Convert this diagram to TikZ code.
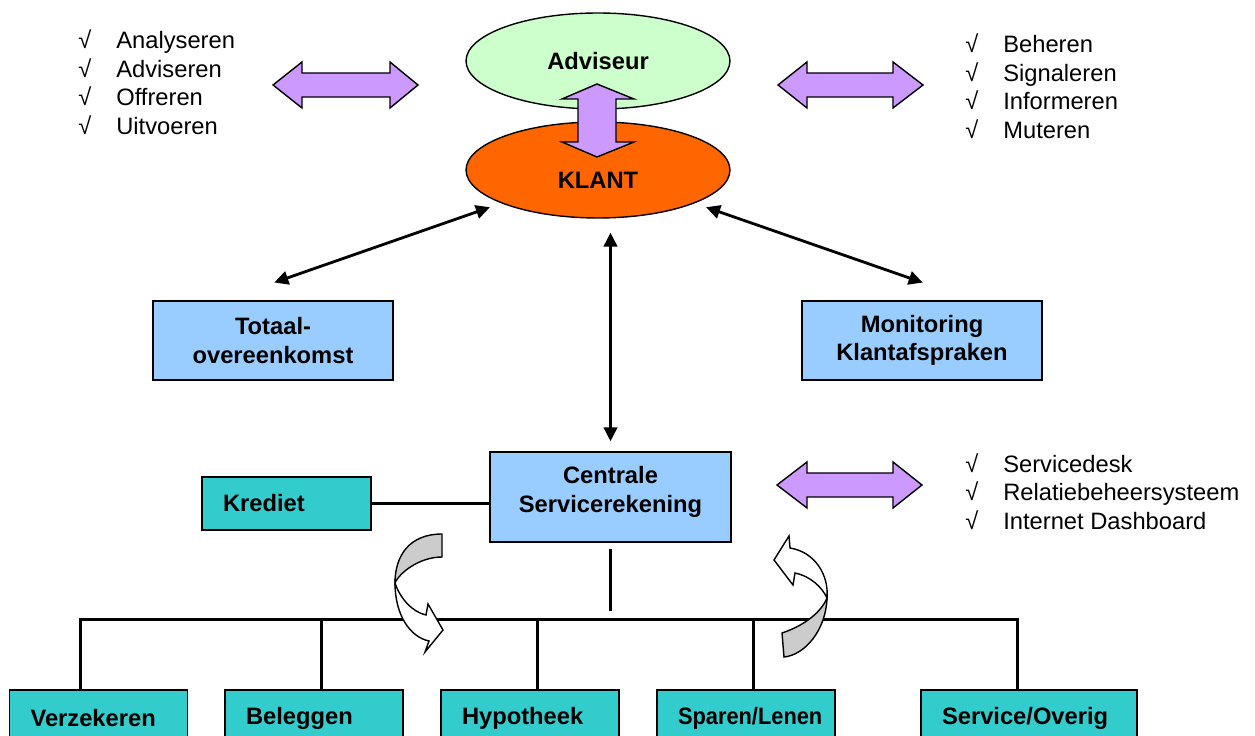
\documentclass[tikz,border=0pt]{standalone}
\usepackage{fontspec}
\setmainfont{Liberation Sans}
\usetikzlibrary{shapes.geometric,arrows.meta}

\definecolor{lichtgroen}{HTML}{CCFFCC}
\definecolor{oranje}{HTML}{FF6600}
\definecolor{lichtblauw}{HTML}{99CCFF}
\definecolor{turkoois}{HTML}{33CCCC}
\definecolor{paars}{HTML}{CC99FF}
\definecolor{grijs}{HTML}{CCCCCC}

\newcommand{\vink}{\makebox[0.76cm][l]{√}}

\tikzset{
  ovaal/.style={ellipse, draw, line width=0.8pt, minimum width=5.28cm, minimum height=1.92cm, font=\bfseries},
  blok/.style={draw, line width=0.8pt, fill=lichtblauw, font=\bfseries, align=center},
  product/.style={draw, line width=0.8pt, fill=turkoois, font=\bfseries, align=left, inner xsep=0.42cm, minimum height=1.12cm},
  pijl/.style={draw, line width=0.8pt, fill=paars, line join=miter},
  lijst/.style={anchor=north west, inner sep=0pt}
}

\begin{document}
\fontsize{13.5}{16.2}\selectfont
\begin{tikzpicture}[x=0.02cm, y=-0.02cm, >={Triangle[length=0.28cm,width=0.27cm]}]
\useasboundingbox (0,0) rectangle (1255,736);

% adviseur en klant
\node[ovaal, fill=lichtgroen] (adviseur) at (598,61) {Adviseur};
\node[ovaal, fill=oranje] (klant) at (598,170) {\raisebox{-0.2cm}[\height][\depth]{KLANT}};
\draw[pijl] (597,84) -- (634,99) -- (616,99) -- (616,142) -- (634,142) -- (597,157)
  -- (562,142) -- (578,142) -- (578,99) -- (562,99) -- cycle;

% lijstjes met blokpijlen
\node[lijst] (taken) at (78,28.5) {\begin{tabular}{@{}l@{}}
  \vink Analyseren\\ \vink Adviseren\\ \vink Offreren\\ \vink Uitvoeren
\end{tabular}};
\draw[pijl] (273,85) -- (302,62) -- (302,73) -- (390,73) -- (390,62) -- (418,85)
  -- (390,108) -- (390,97) -- (302,97) -- (302,108) -- cycle;

\node[lijst] (beheer) at (965,32.5) {\begin{tabular}{@{}l@{}}
  \vink Beheren\\ \vink Signaleren\\ \vink Informeren\\ \vink Muteren
\end{tabular}};
\draw[pijl] (778,85) -- (807,62) -- (807,73) -- (893,73) -- (893,62) -- (923,85)
  -- (893,108) -- (893,97) -- (807,97) -- (807,108) -- cycle;

\node[lijst] (middelen) at (965,452) {\begin{tabular}{@{}l@{}}
  \vink Servicedesk\\ \vink Relatiebeheersysteem\\ \vink Internet Dashboard
\end{tabular}};
\draw[pijl] (777,485) -- (807,462) -- (807,473) -- (893,473) -- (893,462) -- (922,485)
  -- (893,508) -- (893,497) -- (807,497) -- (807,508) -- cycle;

% blokken
\node[blok, minimum width=4.8cm, minimum height=1.58cm] (totaal) at (273,340.5) {Totaal-\\overeenkomst};
\node[blok, minimum width=4.8cm, minimum height=1.58cm] (monitoring) at (922,340.5) {Monitoring\\Klantafspraken};
\node[blok, minimum width=4.82cm, minimum height=1.8cm, text depth=0.3cm] (centrale) at (610.5,497) {Centrale\\Servicerekening};
\node[product, text width=2.54cm, minimum height=1.06cm] (krediet) at (286.5,503.5) {Krediet};

\draw[<->, line width=1.6pt, shorten <=0.24cm, shorten >=1.08cm] (klant.199) -- ([xshift=1.42cm]totaal.north west);
\draw[<->, line width=1.6pt, shorten <=0.24cm, shorten >=1.08cm] (klant.341) -- ([xshift=-1.38cm]monitoring.north east);
\draw[<->, line width=1.6pt, shorten <=0.28cm, shorten >=0.2cm] (centrale.north |- klant.south) -- (centrale.north);
\draw[line width=1.5pt] (krediet.east) -- (krediet.east -| centrale.west);

% producten
\node[product, text width=2.72cm] (verzekeren) at (98.5,718) {Verzekeren};
\node[product, text width=2.72cm] (beleggen) at (314,718) {Beleggen};
\node[product, text width=2.72cm] (hypotheek) at (530,718) {Hypotheek};
\node[product, text width=2.72cm] (sparen) at (746,718) {\scalebox{0.92}[1]{Sparen/Lenen}};
\node[product, text width=3.48cm] (service) at (1029,718) {Service/Overig};

\draw[line width=1.5pt] ([xshift=1.44cm]verzekeren.north west) -- ++(0,-70) coordinate (b1);
\draw[line width=1.5pt] ([xshift=1.94cm]beleggen.north west) -- ++(0,-70);
\draw[line width=1.5pt] ([xshift=1.94cm]hypotheek.north west) -- ++(0,-70);
\draw[line width=1.5pt] ([xshift=1.94cm]sparen.north west) -- ++(0,-70);
\draw[line width=1.5pt] ([xshift=1.94cm]service.north west) -- ++(0,-70) coordinate (b5);
\draw[line width=1.8pt, line cap=rect] (b1) -- (b5);
\draw[line width=1.8pt] ([yshift=-0.12cm]centrale.south) -- ([yshift=0.16cm]centrale.south |- b1);

% draaiende pijlen
\draw[line width=0.8pt, fill=grijs] (442,534) .. controls (410,534) and (395,555) .. (395,583)
  .. controls (400,572) and (420,557) .. (442,557) -- cycle;
\draw[line width=0.8pt, fill=white] (395,583) .. controls (395,615) and (410,637) .. (429,641)
  -- (425,652) -- (443,630) -- (428,604) -- (426,615) .. controls (412,612) and (400,598) .. (395,583) -- cycle;

\draw[line width=0.8pt, fill=grijs] (782,633) -- (784,657) .. controls (805,655) and (826,630) .. (827,598)
  .. controls (820,615) and (800,627) .. (782,633) -- cycle;
\draw[line width=0.8pt, fill=white] (827,598) .. controls (829,575) and (815,552) .. (790,548)
  -- (789,536) -- (774,560) -- (793,585) -- (795,573) .. controls (810,576) and (822,587) .. (827,598) -- cycle;
%
\end{tikzpicture}
\end{document}
